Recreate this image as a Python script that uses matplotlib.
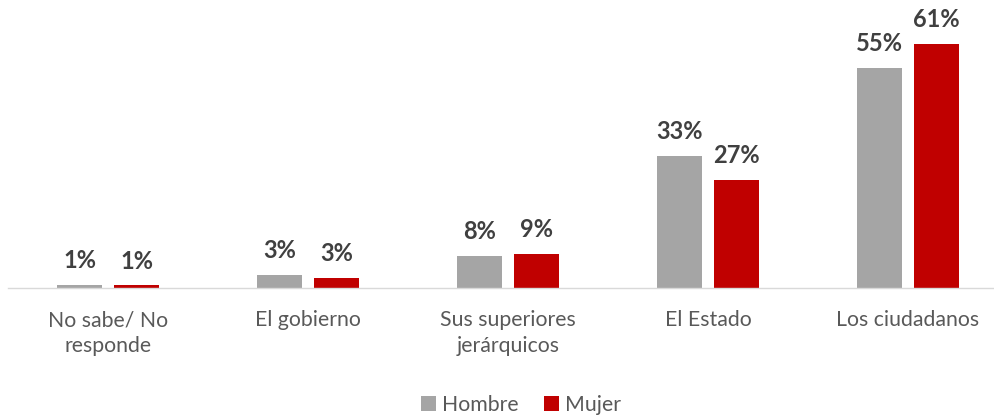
import matplotlib
matplotlib.use('Agg')

import matplotlib.pyplot as plt
import matplotlib.patches as mpatches
import numpy as np

plt.rcParams['font.family'] = ['Lato', 'DejaVu Sans']

# colours
c_gray = '#A5A5A5'
c_red = '#C00000'
c_val = '#404040'
c_cat = '#595959'

categories = ['No sabe/ No\nresponde', 'El gobierno', 'Sus superiores\njerárquicos',
              'El Estado', 'Los ciudadanos']
hombre = [1, 3, 8, 33, 55]
mujer = [1, 3, 9, 27, 61]
# bar heights (small ones are not exactly 1/3)
hombre_h = [0.8, 3.3, 8.0, 33.0, 55.0]
mujer_h = [0.7, 2.6, 8.6, 27.0, 61.0]

fig = plt.figure(figsize=[9.94, 4.16], dpi=100)
ax = fig.add_axes([8/994., 128/416., 986/994., 280/416.])

x = np.arange(len(categories))
w = 0.225
off = 0.1425
b1 = ax.bar(x - off, hombre_h, width=w, color=c_gray, label='Hombre')
b2 = ax.bar(x + off, mujer_h, width=w, color=c_red, label='Mujer')

for bars, vals in [(b1, hombre), (b2, mujer)]:
    for b, v in zip(bars, vals):
        ax.annotate('{}%'.format(v), (b.get_x() + b.get_width()/2, b.get_height()),
                    xytext=(0, 12), textcoords='offset points', ha='center',
                    va='baseline', fontsize=17, fontweight='bold', color=c_val)

ax.set_xlim(-0.5, 4.43)
ax.set_ylim(0, 70)
ax.set_xticks(x)
ax.set_xticklabels(categories, fontsize=15.3, color=c_cat, linespacing=1.35)
ax.tick_params(axis='x', length=0, pad=16)
ax.set_yticks([])
for s in ['top', 'left', 'right']:
    ax.spines[s].set_visible(False)
ax.spines['bottom'].set_color('#D9D9D9')
ax.spines['bottom'].set_linewidth(1)

h1 = mpatches.Patch(facecolor=c_gray, label='Hombre')
h2 = mpatches.Patch(facecolor=c_red, label='Mujer')
fig.legend([h1, h2], ['Hombre', 'Mujer'], loc='center', bbox_to_anchor=(521/994., 1 - 405/416.),
           ncol=2, frameon=False, fontsize=15.3, handlelength=0.7, handleheight=0.7,
           handletextpad=0.3, columnspacing=1.2, labelcolor=c_cat)

fig.savefig('out.png', dpi=100)
